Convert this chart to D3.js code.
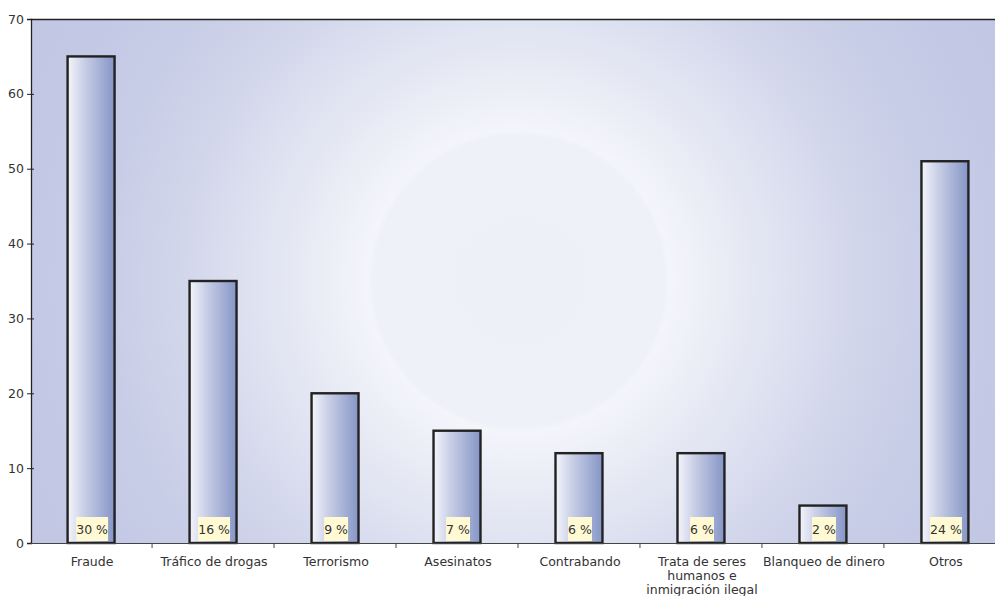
<!DOCTYPE html>
<html>
<head>
<meta charset="utf-8">
<script src="https://cdn.jsdelivr.net/npm/d3@7"></script>
<style>
  html, body { margin: 0; padding: 0; background: #ffffff; }
  svg { display: block; font-family: "DejaVu Sans", Verdana, sans-serif; }
</style>
</head>
<body>
<svg id="chart" width="995" height="596"></svg>
<script>
// Delitos por tipo: número de casos y porcentaje sobre el total
const categories = ["Fraude", "Tráfico de drogas", "Terrorismo", "Asesinatos", "Contrabando",
  "Trata de seres humanos e inmigración ilegal", "Blanqueo de dinero", "Otros"];
const categoryLines = [["Fraude"], ["Tráfico de drogas"], ["Terrorismo"], ["Asesinatos"], ["Contrabando"],
  ["Trata de seres", "humanos e", "inmigración ilegal"], ["Blanqueo de dinero"], ["Otros"]];
const values = [65, 35, 20, 15, 12, 12, 5, 51];
const percents = ["30 %", "16 %", "9 %", "7 %", "6 %", "6 %", "2 %", "24 %"];
const yTicks = [0, 10, 20, 30, 40, 50, 60, 70];

const svg = d3.select("#chart");
const margin = { left: 31, top: 19, right: -10, bottom: 53 };
const W = 995, H = 596;
const x0 = margin.left, x1 = W - margin.right;
const y0 = H - margin.bottom, y1 = margin.top;
const FS = 12.5;

const x = d3.scaleBand().domain(categories).range([x0, x1]).paddingInner(0.615).paddingOuter(0.3);
const y = d3.scaleLinear().domain([0, 70]).range([y0, y1]);

const defs = svg.append("defs");
const bg = defs.append("radialGradient").attr("id", "bg")
  .attr("gradientUnits", "userSpaceOnUse")
  .attr("cx", 519).attr("cy", 281).attr("r", 520);
[[0, "#edf0f7"], [0.28, "#eef1f7"], [0.29, "#f4f5fb"], [0.42, "#e7eaf4"], [0.5, "#e0e3f1"],
 [0.65, "#d2d6eb"], [0.8, "#c8cde7"], [0.95, "#c3c9e5"], [1, "#c2c8e4"]]
  .forEach(([o, c]) => bg.append("stop").attr("offset", o).attr("stop-color", c));

const barGrad = defs.append("linearGradient").attr("id", "bar")
  .attr("x1", 0).attr("x2", 1).attr("y1", 0).attr("y2", 0);
[[0, "#f4f5fb"], [0.35, "#c9cfe6"], [1, "#8595c6"]]
  .forEach(([o, c]) => barGrad.append("stop").attr("offset", o).attr("stop-color", c));

// plot background
svg.append("rect").attr("x", x0).attr("y", y1).attr("width", x1 - x0).attr("height", y0 - y1)
  .attr("fill", "url(#bg)");

// top frame line
svg.append("line").attr("x1", x0).attr("x2", x1).attr("y1", y1 + 0.5).attr("y2", y1 + 0.5)
  .attr("stroke", "#222").attr("stroke-width", 1.3);

// bars
svg.append("g").selectAll("rect").data(values).join("rect")
  .attr("x", (d, i) => x(categories[i]))
  .attr("y", d => y(d))
  .attr("width", x.bandwidth())
  .attr("height", d => y0 - y(d))
  .attr("fill", "url(#bar)")
  .attr("stroke", "#222").attr("stroke-width", 2.4);

// percentage labels with pale yellow boxes
const lbl = svg.append("g").selectAll("g").data(percents).join("g")
  .attr("transform", (d, i) => `translate(${x(categories[i]) + x.bandwidth() / 2 + 1},${y0 - 13})`);
lbl.append("text").text(d => d)
  .attr("text-anchor", "middle").attr("dy", "0.35em")
  .attr("font-size", FS).attr("fill", "#333");
lbl.each(function () {
  const g = d3.select(this);
  const b = g.select("text").node().getBBox();
  g.insert("rect", "text").attr("x", b.x).attr("y", -13).attr("width", b.width).attr("height", 24)
    .attr("fill", "#fffad4");
});

// y axis
const yAxis = svg.append("g").attr("transform", `translate(${x0},0)`)
  .call(d3.axisLeft(y).tickValues(yTicks).tickSize(4).tickPadding(3));
yAxis.select(".domain").attr("stroke", "#222").attr("stroke-width", 1.3);
yAxis.selectAll(".tick line").attr("stroke", "#222").attr("x2", 3).attr("x1", -4);
yAxis.selectAll(".tick text").attr("font-size", FS).attr("fill", "#333")
  .attr("font-family", "DejaVu Sans, Verdana, sans-serif");

// x axis baseline and tick marks at band boundaries
const xg = svg.append("g");
xg.append("line").attr("x1", x0).attr("x2", x1).attr("y1", y0 + 0.5).attr("y2", y0 + 0.5)
  .attr("stroke", "#444").attr("stroke-width", 1);
const step = x.step();
const bounds = categories.slice(1).map(c => x(c) - step * x.paddingInner() / 2);
xg.selectAll(".xt").data(bounds).join("line").attr("class", "xt")
  .attr("x1", d => d).attr("x2", d => d).attr("y1", y0).attr("y2", y0 + 5)
  .attr("stroke", "#444");

// category labels
const cl = xg.selectAll(".cl").data(categoryLines).join("text").attr("class", "cl")
  .attr("text-anchor", "middle").attr("font-size", FS).attr("fill", "#333")
  .attr("transform", (d, i) => `translate(${x(categories[i]) + x.bandwidth() / 2 + 1},${y0 + 23})`);
cl.selectAll("tspan").data(d => d).join("tspan")
  .attr("x", 0).attr("dy", (d, i) => i === 0 ? 0 : 14).text(d => d);
</script>
</body>
</html>
